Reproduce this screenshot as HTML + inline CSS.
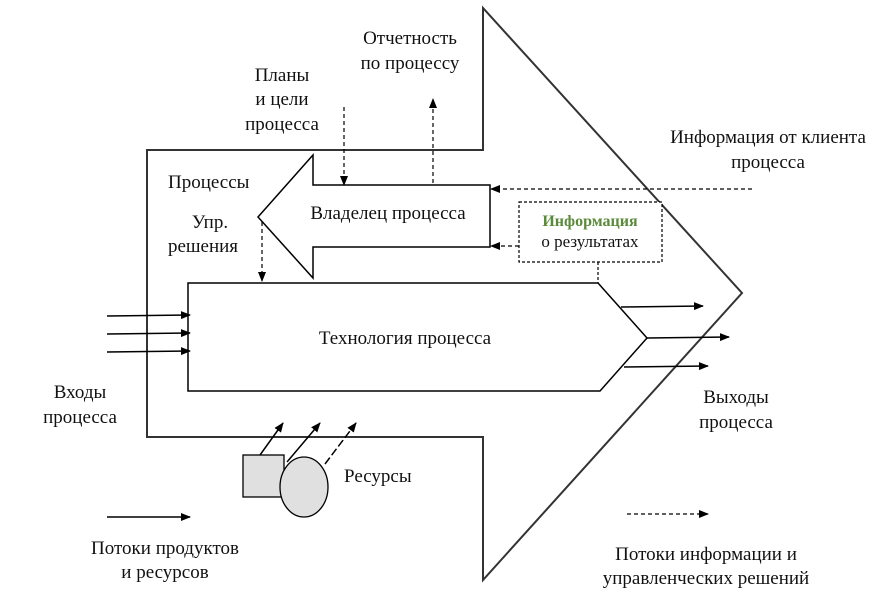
<!DOCTYPE html>
<html><head><meta charset="utf-8"><style>
html,body{margin:0;padding:0;background:#fff;width:884px;height:603px;overflow:hidden}
svg{display:block}
text{font-family:"Liberation Serif","DejaVu Serif",serif;font-size:19px;fill:#111}
</style></head><body>
<svg width="884" height="603" viewBox="0 0 884 603" xmlns="http://www.w3.org/2000/svg">
<defs>
<marker id="a" markerWidth="10" markerHeight="8" refX="9" refY="4" orient="auto" markerUnits="userSpaceOnUse"><path d="M0,0 L10,4 L0,8 z" fill="#000"/></marker>
</defs>
<g fill="none" stroke="#000" stroke-width="1.5">
<path d="M147,150 L483,150 L483,8 L742,293 L483,580 L483,437 L147,437 Z" stroke="#333" stroke-width="2"/>
<path d="M258,217 L313,155 L313,185 L490,185 L490,247 L313,247 L313,278 Z" fill="#fff"/>
<path d="M188,283 L598,283 L647,338 L600,391 L188,391 Z" fill="#fff"/>
<rect x="519" y="202" width="143" height="60" stroke-dasharray="3,2" stroke-width="1.2" fill="#fff"/>
<line x1="598" y1="262" x2="598" y2="283" stroke-dasharray="3,2" stroke-width="1.2"/>
</g>
<g stroke="#000" stroke-width="1.5" fill="none">
<line x1="107" y1="316" x2="190" y2="315" marker-end="url(#a)"/>
<line x1="107" y1="334" x2="190" y2="333" marker-end="url(#a)"/>
<line x1="107" y1="352" x2="190" y2="351" marker-end="url(#a)"/>
<line x1="621" y1="307" x2="703" y2="306" marker-end="url(#a)"/>
<line x1="647" y1="338" x2="729" y2="337" marker-end="url(#a)"/>
<line x1="624" y1="367" x2="708" y2="366" marker-end="url(#a)"/>
<line x1="107" y1="517" x2="190" y2="517" marker-end="url(#a)"/>
<line x1="260" y1="455" x2="283" y2="423" marker-end="url(#a)"/>
<line x1="287" y1="462" x2="320" y2="423" marker-end="url(#a)"/>
<line x1="325" y1="464" x2="356" y2="423" stroke-dasharray="8,3" marker-end="url(#a)"/>
</g>
<g stroke="#000" stroke-width="1.2" fill="none" stroke-dasharray="4,3">
<line x1="344" y1="107" x2="344" y2="185" marker-end="url(#a)"/>
<line x1="433" y1="183" x2="433" y2="99" marker-end="url(#a)"/>
<line x1="262" y1="222" x2="262" y2="281" marker-end="url(#a)"/>
<line x1="752" y1="189" x2="491" y2="189" marker-end="url(#a)"/>
<line x1="519" y1="246" x2="491" y2="246" marker-end="url(#a)"/>
<line x1="627" y1="514" x2="708" y2="514" marker-end="url(#a)"/>
</g>
<rect x="243" y="455" width="41" height="42" fill="#e0e0e0" stroke="#000" stroke-width="1.3"/>
<ellipse cx="304" cy="487" rx="24" ry="30" fill="#e0e0e0" stroke="#000" stroke-width="1.3"/>
<text x="410" y="44" text-anchor="middle">Отчетность</text>
<text x="410" y="69" text-anchor="middle">по процессу</text>
<text x="282" y="81" text-anchor="middle">Планы</text>
<text x="282" y="105" text-anchor="middle">и цели</text>
<text x="282" y="130" text-anchor="middle">процесса</text>
<text x="168" y="188">Процессы</text>
<text x="210" y="228" text-anchor="middle">Упр.</text>
<text x="203" y="252" text-anchor="middle">решения</text>
<text x="388" y="219" text-anchor="middle">Владелец процесса</text>
<text x="590" y="226" text-anchor="middle" style="font-size:16px;font-weight:bold;fill:#5a8a3a">Информация</text>
<text x="590" y="247" text-anchor="middle" style="font-size:17px">о результатах</text>
<text x="768" y="143" text-anchor="middle">Информация от клиента</text>
<text x="768" y="168" text-anchor="middle">процесса</text>
<text x="405" y="344" text-anchor="middle">Технология процесса</text>
<text x="80" y="398" text-anchor="middle">Входы</text>
<text x="80" y="423" text-anchor="middle">процесса</text>
<text x="736" y="403" text-anchor="middle">Выходы</text>
<text x="736" y="428" text-anchor="middle">процесса</text>
<text x="344" y="482">Ресурсы</text>
<text x="165" y="554" text-anchor="middle">Потоки продуктов</text>
<text x="165" y="578" text-anchor="middle">и ресурсов</text>
<text x="706" y="560" text-anchor="middle">Потоки информации и</text>
<text x="706" y="584" text-anchor="middle">управленческих решений</text>
</svg>
</body></html>
